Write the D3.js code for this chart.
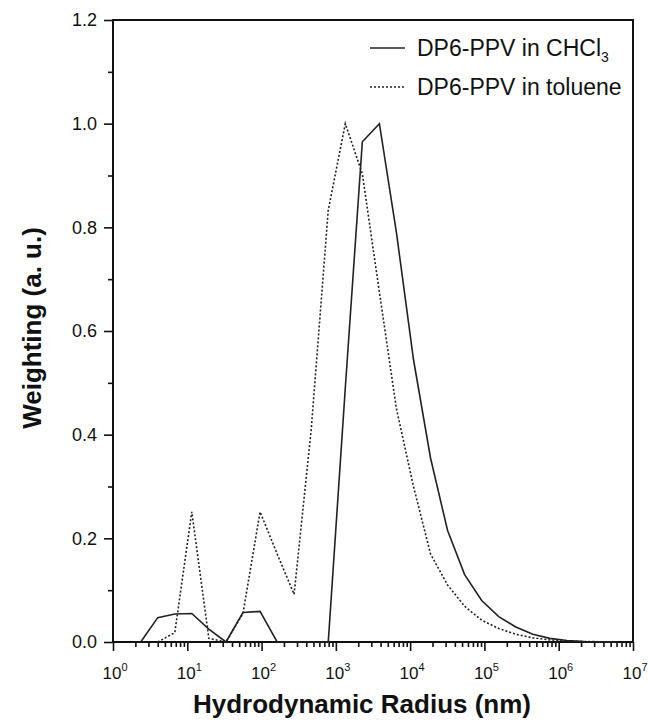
<!DOCTYPE html>
<html>
<head>
<meta charset="utf-8">
<script src="https://cdn.jsdelivr.net/npm/d3@7"></script>
<style>
  body { margin: 0; background: #fff; }
  text { font-family: Arial, "Liberation Sans", sans-serif; fill: #111; }
</style>
</head>
<body>
<div id="chart"></div>
<script>
// hydrodynamic radius bins (nm)
const radius = [2.36, 4.0, 6.79, 11.5, 19.5, 33.2, 56.2, 95.4, 162, 274, 466, 790, 1340, 2273,
  3855, 6540, 11090, 18810, 31920, 54140, 91830, 155800, 264200, 448200, 760300,
  1290000, 2188000, 3711000, 6295000];
// weighting, solid line
const chcl3 = [0, 0.047, 0.054, 0.055, 0.025, 0, 0.057, 0.059, 0, 0, 0, 0, 0.49, 0.965,
  1.0, 0.79, 0.545, 0.355, 0.215, 0.13, 0.08, 0.049, 0.029, 0.015, 0.007,
  0.003, 0.001, 0.0005, 0];
// weighting, dotted line (first bin not drawn)
const toluene = [null, 0, 0.018, 0.251, 0.007, 0, 0.055, 0.251, 0.17, 0.092, 0.41, 0.833, 1.0, 0.903,
  0.675, 0.45, 0.3, 0.17, 0.11, 0.069, 0.042, 0.026, 0.015, 0.008, 0.004,
  0.002, 0.001, 0.0005, 0];

const yTicks = [0, 0.2, 0.4, 0.6, 0.8, 1.0, 1.2];
const yMinor = [0.1, 0.3, 0.5, 0.7, 0.9, 1.1];
const xExponents = [0, 1, 2, 3, 4, 5, 6, 7];

let margin = { left: 113, right: 15, top: 20, bottom: 80 };
let chart_width = 648 - margin.left - margin.right;
let chart_height = 722 - margin.top - margin.bottom;

let svg = d3.select("#chart").append("svg")
  .attr("width", 648)
  .attr("height", 722);

let g = svg.append("g")
  .attr("transform", `translate(${margin.left},${margin.top})`);

let x = d3.scaleLog().domain([1, 1e7]).range([0, chart_width]);
let y = d3.scaleLinear().domain([0, 1.2]).range([chart_height, 0]);

// minor x ticks: 2..9 in each decade
let xMinor = [];
xExponents.slice(0, -1).forEach(e => {
  for (let m = 2; m <= 9; m++) xMinor.push(m * Math.pow(10, e));
});

// x axis major + minor
let xMajorAxis = g.append("g")
  .attr("transform", `translate(0,${chart_height})`)
  .call(d3.axisBottom(x).tickValues(xExponents.map(e => Math.pow(10, e)))
    .tickSize(9).tickSizeOuter(0).tickFormat(""));
let xMinorAxis = g.append("g")
  .attr("transform", `translate(0,${chart_height})`)
  .call(d3.axisBottom(x).tickValues(xMinor).tickSize(5).tickSizeOuter(0).tickFormat(""));

// y axis major + minor
let yMajorAxis = g.append("g")
  .call(d3.axisLeft(y).tickValues(yTicks).tickSize(9).tickSizeOuter(0)
    .tickPadding(7).tickFormat(d3.format(".1f")));
let yMinorAxis = g.append("g")
  .call(d3.axisLeft(y).tickValues(yMinor).tickSize(5).tickSizeOuter(0).tickFormat(""));

[xMajorAxis, xMinorAxis, yMajorAxis, yMinorAxis].forEach(a => {
  a.select(".domain").remove();
  a.selectAll("line").attr("stroke", "#111").attr("stroke-width", 1.6);
});
yMajorAxis.selectAll("text")
  .style("font-size", "18px")
  .attr("fill", "#111");

// x tick labels as 10^n
let xLabels = g.append("g");
xExponents.forEach(e => {
  let t = xLabels.append("text")
    .attr("x", x(Math.pow(10, e)) + 2)
    .attr("y", chart_height + 37)
    .attr("text-anchor", "middle")
    .style("font-size", "17px");
  t.append("tspan").text("10");
  t.append("tspan").attr("dy", -8).style("font-size", "11px").text(e);
});

// frame
g.append("rect")
  .attr("x", 0).attr("y", 0)
  .attr("width", chart_width).attr("height", chart_height)
  .attr("fill", "none").attr("stroke", "#111").attr("stroke-width", 2);

// lines
let line = d3.line()
  .defined(d => d.v != null)
  .x(d => x(d.r))
  .y(d => y(d.v));

let chData = radius.map((r, i) => ({ r: r, v: chcl3[i] }));
let tolData = radius.map((r, i) => ({ r: r, v: toluene[i] }));

g.append("path").datum(chData)
  .attr("d", line)
  .attr("fill", "none").attr("stroke", "#222").attr("stroke-width", 1.6);

g.append("path").datum(tolData)
  .attr("d", line)
  .attr("fill", "none").attr("stroke", "#222").attr("stroke-width", 1.6)
  .attr("stroke-dasharray", "2,2");

// legend
let legend = g.append("g").attr("transform", "translate(257,28)");
legend.append("line").attr("x1", 0).attr("x2", 35).attr("y1", 0).attr("y2", 0)
  .attr("stroke", "#222").attr("stroke-width", 1.5);
let l1 = legend.append("text").attr("x", 47).attr("y", 8).style("font-size", "23px");
l1.append("tspan").text("DP6-PPV in CHCl");
l1.append("tspan").attr("dy", 6).style("font-size", "14px").text("3");

legend.append("line").attr("x1", 0).attr("x2", 36).attr("y1", 39).attr("y2", 39)
  .attr("stroke", "#222").attr("stroke-width", 1.5).attr("stroke-dasharray", "2,2");
legend.append("text").attr("x", 47).attr("y", 47).style("font-size", "23px")
  .text("DP6-PPV in toluene");

// axis titles
svg.append("text")
  .attr("x", 362).attr("y", 713)
  .attr("text-anchor", "middle")
  .style("font-size", "26px").style("font-weight", "bold")
  .text("Hydrodynamic Radius (nm)");

svg.append("text")
  .attr("transform", "translate(41,328) rotate(-90)")
  .attr("text-anchor", "middle")
  .style("font-size", "26px").style("font-weight", "bold")
  .text("Weighting (a. u.)");
</script>
</body>
</html>
